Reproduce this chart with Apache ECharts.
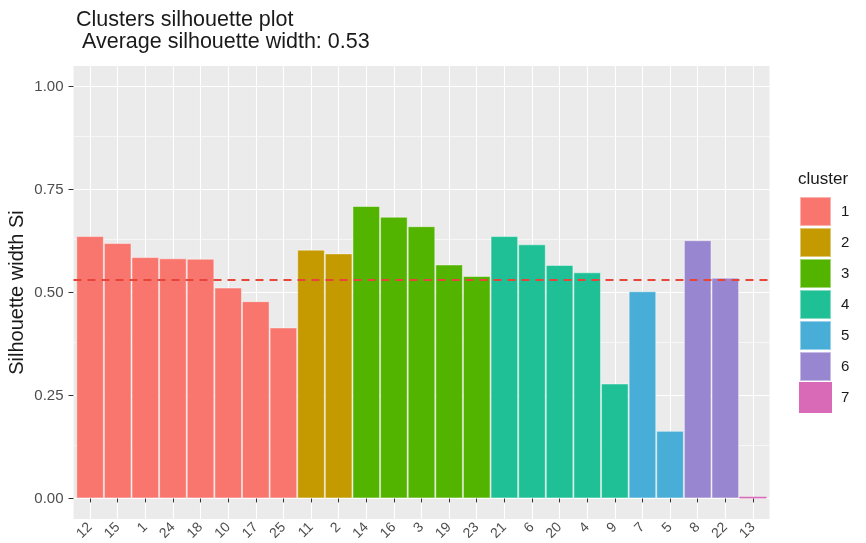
<!DOCTYPE html>
<html>
<head>
<meta charset="utf-8">
<script src="https://cdn.jsdelivr.net/npm/echarts@6/dist/echarts.min.js"></script>
<style>
  html, body { margin: 0; padding: 0; background: #fff; }
  #main { width: 866px; height: 543px; }
</style>
</head>
<body>
<div id="main"></div>
<script>
// sample ids in plot order, their cluster and silhouette width
var sampleNames = ['12','15','1','24','18','10','17','25','11','2','14','16','3','19','23','21','6','20','4','9','7','5','8','22','13'];
var sampleCluster = [1,1,1,1,1,1,1,1,2,2,3,3,3,3,3,4,4,4,4,4,5,5,6,6,7];
var silWidth = [0.637,0.620,0.586,0.583,0.582,0.512,0.479,0.415,0.604,0.595,0.710,0.684,0.661,0.568,0.540,0.637,0.617,0.567,0.549,0.279,0.503,0.164,0.627,0.536,0.004];
var clusterNames = ['1','2','3','4','5','6','7'];
var avgWidth = 0.53;
var yTicks = [0, 0.25, 0.5, 0.75, 1];
var yMinor = [0.125, 0.375, 0.625, 0.875];

var clusterColors = ['#F8766D','#C49A00','#53B400','#1FC096','#48AED8','#9986D0','#D96AB8'];
var font = 'Liberation Sans, Arial, sans-serif';

var xPos = sampleNames.map(function (n, i) { return i + 1; });

var series = clusterNames.map(function (c, ci) {
    var pts = [];
    sampleNames.forEach(function (n, i) {
        if (String(sampleCluster[i]) === c) pts.push([i + 1, silWidth[i]]);
    });
    var s = {
        name: c,
        type: 'bar',
        data: pts,
        barWidth: 27.6,
        barGap: '-100%',
        z: 2,
        itemStyle: { color: clusterColors[ci], borderColor: 'rgba(255,255,255,0.45)', borderWidth: 1 },
        emphasis: { disabled: true }
    };
    if (ci === 0) {
        // minor grid lines, under the bars
        s.markLine = {
            z: 1, silent: true, symbol: 'none', label: { show: false },
            lineStyle: { color: '#ffffff', width: 0.6, type: 'solid' },
            data: yMinor.map(function (v) { return { yAxis: v }; })
        };
    }
    if (ci === 1) {
        s.markLine = {
            z: 5, silent: true, symbol: 'none', label: { show: false },
            lineStyle: { color: '#E8453A', width: 2, type: [8, 6] },
            data: [{ yAxis: avgWidth }]
        };
    }
    if (ci === 6) {
        s.itemStyle.borderColor = clusterColors[ci];
    }
    return s;
});

var myChart = echarts.init(document.getElementById('main'));
var option = {
    animation: false,
    textStyle: { fontFamily: font },
    title: {
        text: 'Clusters silhouette plot\n Average silhouette width: 0.53',
        left: 71, top: 4,
        textStyle: { fontFamily: font, fontSize: 21.5, fontWeight: 'normal', color: '#1a1a1a', lineHeight: 22 }
    },
    graphic: [{
        type: 'text', left: 798, top: 171,
        style: { text: 'cluster', fontFamily: font, fontSize: 17, fill: '#1a1a1a' }
    }],
    legend: {
        data: clusterNames,
        orient: 'vertical',
        left: 794, top: 191,
        icon: 'rect',
        itemWidth: 31, itemHeight: 29, itemGap: 0,
        textStyle: { fontFamily: font, fontSize: 15, color: '#1a1a1a', padding: [0, 0, 0, 5] },
        selectedMode: false
    },
    grid: {
        left: 73.5, right: 96.5, top: 66, bottom: 24,
        outerBoundsMode: 'none',
        show: true, backgroundColor: '#EBEBEB', borderWidth: 0
    },
    xAxis: {
        type: 'value',
        min: 0.4, max: 25.6,
        axisLine: { show: false },
        axisTick: { show: true, length: 4, lineStyle: { color: '#333333', width: 1 }, customValues: xPos },
        axisLabel: {
            customValues: xPos, rotate: 45, margin: 6,
            fontFamily: font, fontSize: 14, color: '#4D4D4D',
            formatter: function (v) { return sampleNames[Math.round(v) - 1]; }
        },
        splitLine: { show: true, lineStyle: { color: '#ffffff', width: 1.1 } }
    },
    yAxis: {
        type: 'value',
        min: -0.05, max: 1.05,
        name: 'Silhouette width Si',
        nameLocation: 'middle', nameGap: 46, nameRotate: 90,
        nameMoveOverlap: false,
        nameTextStyle: { fontFamily: font, fontSize: 20, color: '#1a1a1a' },
        axisLine: { show: false },
        axisTick: { show: true, length: 5, lineStyle: { color: '#333333', width: 1 }, customValues: yTicks },
        axisLabel: {
            customValues: yTicks, margin: 10,
            fontFamily: font, fontSize: 15, color: '#4D4D4D',
            formatter: function (v) { return v.toFixed(2); }
        },
        splitLine: { show: true, lineStyle: { color: '#ffffff', width: 1.1 } }
    },
    series: series
};
myChart.setOption(option);
</script>
</body>
</html>
